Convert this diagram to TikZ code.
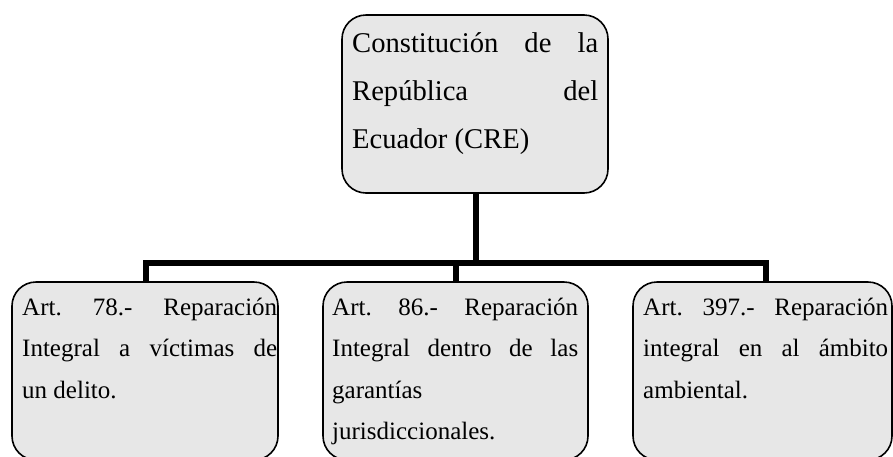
\documentclass[tikz,border=0pt]{standalone}
\usepackage{fontspec}
\setmainfont{Liberation Serif}
\definecolor{boxfill}{RGB}{231,231,231}
\tikzset{
  box/.style={draw=black, line width=1.6pt, fill=boxfill, rounded corners=24pt,
    inner sep=0pt, minimum height=178pt},
  conn/.style={draw=black, line width=6pt, line join=miter},
  toptext/.style={anchor=base west, inner sep=0pt, font=\fontsize{28.6}{48}\selectfont},
  bottext/.style={anchor=base west, inner sep=0pt, font=\fontsize{25}{41.5}\selectfont}
}
\begin{document}
\begin{tikzpicture}[x=1pt,y=-1pt]
\useasboundingbox (0,0) rectangle (893,456);
\clip (0,0) rectangle (893,456);
\fill[white] (0,0) rectangle (893,456);
% boxes
\node[box, minimum width=266pt] (top) at (475,104) {};
\node[box, minimum width=266pt] (left) at (145,371) {};
\node[box, minimum width=265pt] (mid) at (455.5,371) {};
\node[box, minimum width=259pt] (right) at (762.5,371) {};
% junction coordinates
\coordinate (jn) at (476,263);
\coordinate (dL) at (145.5,263);
\coordinate (dM) at (455.5,263);
\coordinate (dR) at (766,263);
% connectors
\draw[conn] (top.south -| jn) -- (jn);
\draw[conn] (left.north -| dL) -- (dL) -- (dR) -- (right.north -| dR);
\draw[conn] (dM) -- (mid.north -| dM);
% texts
\node[toptext] (ttop) at (352,52) {\vtop{\hbox to 246pt{Constitución\hfill de\hfill la}\hbox to 246pt{República\hfill del}\hbox{Ecuador (CRE)}}};
\node[bottext] (tleft) at (22,315) {\vtop{\hbox to 255pt{Art.\hfill 78.-\hfill Reparación}\hbox to 255pt{Integral\hfill a\hfill víctimas\hfill de}\hbox{un delito.}}};
\node[bottext] (tmid) at (332,315) {\vtop{\hbox to 246pt{Art.\hfill 86.-\hfill Reparación}\hbox to 246pt{Integral\hfill dentro\hfill de\hfill las}\hbox{garantías}\hbox{jurisdiccionales.}}};
\node[bottext] (tright) at (643,315) {\vtop{\hbox to 245pt{Art.\hfill 397.-\hfill Reparación}\hbox to 245pt{integral\hfill en\hfill al\hfill ámbito}\hbox{ambiental.}}};
\end{tikzpicture}
\end{document}
